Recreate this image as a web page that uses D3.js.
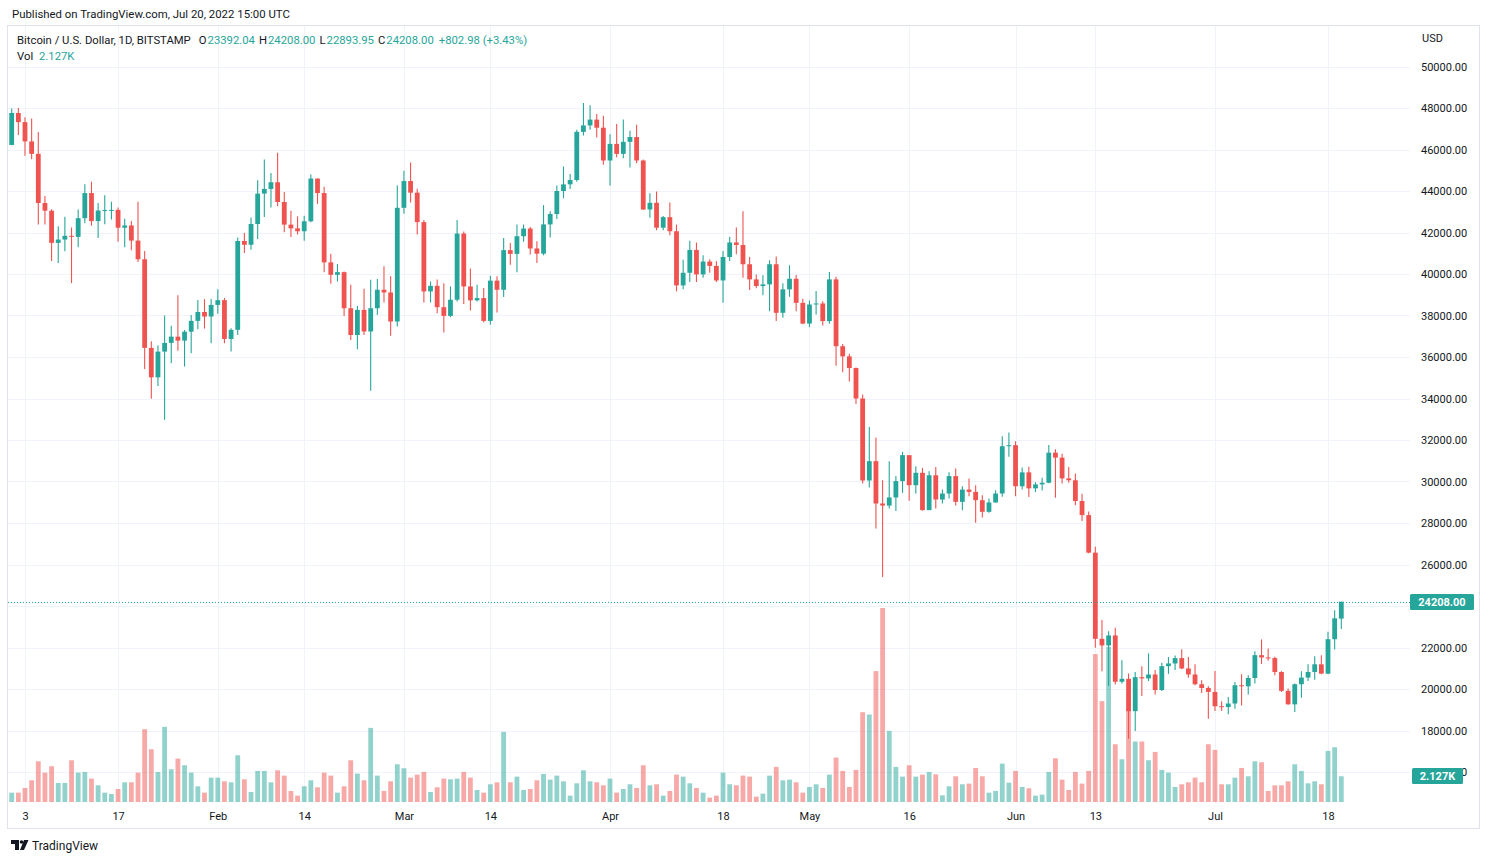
<!DOCTYPE html>
<html><head><meta charset="utf-8">
<script src="https://cdn.jsdelivr.net/npm/d3@7"></script>
<style>
body{margin:0;background:#fff;}
svg{display:block;font-family:Roboto,"Liberation Sans",sans-serif;}
</style>
</head><body>
<svg id="chart" width="1488" height="862"></svg>
<script>
// ---- DATA (Bitstamp BTC/USD daily, 2022-01-01 .. 2022-07-20) ----
const startDay = "2022-01-01";
const opens = [
46220,47760,47320,46390,45790,43420,43050,41500,41660,41840,41790,42690,43900,42550,43060,43080,43090,42230,42340,41610,40710,36440,35020,36260,36680,36980,36790,37220,37740,38170,37950,
38510,38740,36870,37310,41590,41410,42410,43875,44100,44420,43470,42380,42200,42060,42540,44600,43900,40560,39960,40090,38350,37060,38270,37230,38350,39240,39110,37710,
43190,44480,43920,42500,39160,39430,38400,37980,38760,41950,39400,38730,38840,37740,39680,39240,41150,40970,41820,42190,41230,40980,42390,42890,44000,44320,44530,46850,47160,47440,47050,
45470,46270,45790,46370,46600,45470,43110,43430,42230,42740,42060,39450,40060,41160,39980,40600,40390,39690,40820,41520,41400,40470,39740,39420,39500,40470,38130,39260,39770,38610,
37610,38530,38580,37730,39740,36520,36030,35470,34000,30050,30980,28940,28840,29230,30020,31270,29820,30420,28620,30300,29130,29420,30260,29020,29610,29500,29100,28540,28990,29420,31700,
31750,29770,30440,29670,29860,29940,31390,31150,30150,30060,29060,28380,26570,22420,22100,22580,20350,20490,18930,20570,20510,20700,19950,21100,21230,21490,20990,20700,20230,20050,
19860,19170,19130,19300,20180,20130,20530,21630,21520,21490,20820,19910,19260,20230,20550,20820,21190,20740,22400,23392.04];
const highs = [
47970,48000,47560,47500,46840,43760,43120,42300,42760,42240,43110,44320,44450,43420,43800,43480,43210,42660,42560,43480,41110,36760,36550,38000,37510,38980,37300,38030,38750,38790,38790,
39270,38840,37390,41760,41975,42720,44520,45520,44870,45840,43950,43050,42780,42810,44790,44600,44200,40980,40480,40120,39480,38470,39290,39720,39760,40370,39890,44270,
44970,45370,44110,42600,39640,39730,39560,39400,42600,42050,40270,39480,39320,39920,39890,41740,41500,42390,42390,42270,41580,43320,43030,44260,45180,44820,46950,48240,48130,47710,47630,
46740,47230,47440,46900,47190,45520,43890,43970,42790,43450,42390,40690,41600,41520,40900,40710,40630,41110,41790,42240,43020,40820,39980,39940,40660,40840,39550,40420,39950,38810,
38720,39180,38690,40100,39870,36630,36160,35500,34190,32630,32120,30060,30980,30260,31430,31270,30740,30660,30500,30700,29610,30450,30630,29770,30140,29820,29340,29180,29580,32180,32360,
31940,30670,30710,29970,30180,31760,31550,31340,30700,30380,29410,28550,26860,23320,22780,22950,21380,20750,20820,21100,21720,20910,21270,21540,21620,21910,21540,21190,20420,20130,
20870,19410,19620,20340,20710,20660,21820,22390,21950,21550,20860,20020,20260,20860,21190,21580,21630,22760,23800,24208.00];
const lows = [
46210,46700,45700,45530,42390,42390,40630,40530,41100,39560,41290,42440,42330,41730,42400,42630,41550,41290,41150,40580,35420,33990,34600,32970,35700,36300,35540,36180,37340,37370,36660,
38080,36660,36260,37060,41010,41170,41690,42750,43200,43260,42010,41780,41900,41600,42490,43380,40080,39530,39640,37980,36820,36370,37060,34370,38030,38630,37020,37470,
42900,43440,41900,38630,38630,38110,37180,37920,38680,38560,38240,38680,37660,37550,38140,38890,40450,40080,41550,40940,40530,40900,41760,42645,43650,44100,44450,46680,46950,46580,45260,
44260,45630,45580,45130,45340,43080,42710,42110,42110,41870,39160,39260,39610,39610,39820,40060,39610,38610,40630,40950,39820,39230,39310,38980,38210,37730,37890,38900,38210,37580,
37440,38050,37520,37600,35580,35270,34820,33730,29900,29710,27730,25400,28700,28580,29450,29070,29420,28600,28650,28700,28940,29180,28840,28620,29290,28010,28260,28490,28970,29260,31190,
29290,29610,29250,29490,29570,29910,29220,29900,29940,28850,28100,26540,21990,20860,20140,20220,20270,17600,17970,19660,20380,19740,19900,20730,20910,20950,20540,20180,19810,18570,
18940,18940,18780,19050,19210,19730,20260,21200,21360,20660,19860,19250,18890,19580,20390,20450,20710,20710,21900,22893.95];
const closes = [
47760,47320,46390,45790,43420,43050,41500,41660,41840,41790,42690,43900,42550,43060,43080,43090,42230,42340,41610,40710,36440,35020,36260,36680,36980,36790,37220,37740,38170,37950,38510,
38740,36870,37310,41590,41410,42410,43875,44100,44420,43470,42380,42200,42060,42540,44600,43900,40560,39960,40090,38350,37060,38270,37230,38350,39240,39110,37710,43190,
44480,43920,42500,39160,39430,38400,37980,38760,41950,39400,38730,38840,37740,39680,39240,41150,40970,41820,42190,41230,40980,42390,42890,44000,44320,44530,46850,47160,47440,47050,45470,
46270,45790,46370,46600,45470,43110,43430,42230,42740,42060,39450,40060,41160,39980,40600,40390,39690,40820,41520,41400,40470,39740,39420,39500,40470,38130,39260,39770,38610,37610,
38530,38580,37730,39740,36520,36030,35470,34000,30050,30980,28940,28840,29230,30020,31270,29820,30420,28620,30300,29130,29420,30260,29020,29610,29500,29100,28540,28990,29420,31700,31750,
29770,30440,29670,29860,29940,31390,31150,30150,30060,29060,28380,26570,22420,22100,22580,20350,20490,18930,20570,20510,20700,19950,21100,21230,21490,20990,20700,20230,20050,19860,
19170,19130,19300,20180,20130,20530,21630,21520,21490,20820,19910,19260,20230,20550,20820,21190,20740,22400,23405.02,24208.00];
const volumes = [
773,773,1159,1794,3367,2429,2953,1573,1573,3450,2429,2484,1932,1380,773,662,1076,1628,1628,2429,6017,4361,2484,6210,2705,3588,3036,2429,1297,773,2015,
2015,1711,1628,3864,1877,828,2567,2567,1628,2622,2180,911,524,1297,1794,1214,2429,2180,773,1297,3450,2346,1794,6127,2180,911,1711,3119,
2788,2015,2263,2484,828,1214,1932,1877,1932,2484,2015,994,773,1463,1628,5796,1628,2098,994,1076,1794,2318,1849,2180,1711,524,1546,2622,1711,1628,1380,
1932,773,1076,1463,1159,3036,1380,1463,524,911,2263,2098,1546,1159,773,359,524,2429,1463,1380,2180,2098,442,690,2180,2898,1794,1849,1628,773,
1242,1463,1159,2263,3671,2567,1242,2650,7424,7231,10819,16036,5879,2898,2098,3036,2098,2263,2484,2291,552,1297,2125,1463,1518,2815,2125,773,911,3174,1601,
2567,1242,1132,524,607,2484,3616,1849,994,2484,1518,2567,12227,8335,12830,4775,3533,7728,4996,4996,3450,4140,2650,2429,1242,1463,1628,2015,1628,4775,
4306,1463,1463,2015,2815,2125,3367,3284,911,1380,1380,1711,3119,2567,1546,1711,1463,4223,4526,2127];
const timeTickDates = ["2022-01-03","2022-01-17","2022-02-01","2022-02-14","2022-03-01","2022-03-14","2022-04-01","2022-04-18","2022-05-01","2022-05-16","2022-06-01","2022-06-13","2022-07-01","2022-07-18"];
const timeTickLabels = ["3","17","Feb","14","Mar","14","Apr","18","May","16","Jun","13","Jul","18"];
const priceTicks = [16000,18000,20000,22000,24000,26000,28000,30000,32000,34000,36000,38000,40000,42000,44000,46000,48000,50000];

// ---- CHART ----
const UP = "#26a69a", DOWN = "#ef5350", TXT = "#131722", GRID = "#f0f3fa";
const UPV = "rgba(38,166,154,0.5)", DOWNV = "rgba(239,83,80,0.5)";
const parse = d3.utcParse("%Y-%m-%d");
const t0 = parse(startDay);
const bars = closes.map((c,i)=>({date:d3.utcDay.offset(t0,i),o:opens[i],h:highs[i],l:lows[i],c:c,v:volumes[i]}));
const last = bars[bars.length-1], prev = bars[bars.length-2];

const svg = d3.select("#chart");
const plot = {left:8, right:1410, top:26, bottom:803};

const x = d3.scaleUtc().domain([t0, last.date]).range([11.7, 1341.3]);
const y = d3.scaleLinear().domain([20000, 48000]).range([689, 108]);
const yv = d3.scaleLinear().domain([0, 16036]).range([802, 608]);

svg.append("defs").append("clipPath").attr("id","clip")
  .append("rect").attr("x",plot.left).attr("y",plot.top).attr("width",plot.right-plot.left).attr("height",plot.bottom-plot.top);

// frame
svg.append("rect").attr("x",7.5).attr("y",25.5).attr("width",1472).attr("height",803)
  .attr("fill","none").attr("stroke","#e0e3eb").attr("stroke-width",1);

// grid
const g = svg.append("g").attr("clip-path","url(#clip)");
g.selectAll(".hg").data(priceTicks).join("line")
  .attr("x1",plot.left).attr("x2",plot.right)
  .attr("y1",d=>Math.round(y(d))+0.5).attr("y2",d=>Math.round(y(d))+0.5)
  .attr("stroke",GRID).attr("stroke-width",1);
const tickDates = timeTickDates.map(parse);
g.selectAll(".vg").data(tickDates).join("line")
  .attr("x1",d=>Math.round(x(d))+0.5).attr("x2",d=>Math.round(x(d))+0.5)
  .attr("y1",plot.top).attr("y2",plot.bottom)
  .attr("stroke",GRID).attr("stroke-width",1);

// volume
const bw = 4.8;
g.selectAll(".vol").data(bars).join("rect")
  .attr("x",d=>x(d.date)-bw/2).attr("width",bw)
  .attr("y",d=>yv(d.v)).attr("height",d=>yv(0)-yv(d.v))
  .attr("fill",d=>d.c>=d.o?UPV:DOWNV);

// candles
g.selectAll(".wick").data(bars).join("line")
  .attr("x1",d=>x(d.date)).attr("x2",d=>x(d.date))
  .attr("y1",d=>y(d.h)).attr("y2",d=>y(d.l))
  .attr("stroke",d=>d.c>=d.o?UP:DOWN).attr("stroke-width",1.1);
g.selectAll(".body").data(bars).join("rect")
  .attr("x",d=>x(d.date)-bw/2).attr("width",bw)
  .attr("y",d=>y(Math.max(d.o,d.c)))
  .attr("height",d=>Math.max(1,Math.abs(y(d.o)-y(d.c))))
  .attr("fill",d=>d.c>=d.o?UP:DOWN);

// last price dotted line
g.append("line").attr("x1",plot.left).attr("x2",plot.right)
  .attr("y1",Math.round(y(last.c))+0.5).attr("y2",Math.round(y(last.c))+0.5)
  .attr("stroke",UP).attr("stroke-width",1).attr("stroke-dasharray","1,2");

// price axis (the tick hidden under the last-price label is not drawn)
const lastY = y(last.c);
const shownTicks = priceTicks.filter(p => Math.abs(y(p) - lastY) > 9);
const ya = svg.append("g").attr("transform",`translate(${plot.right},0)`)
  .call(d3.axisRight(y).tickValues(shownTicks).tickSize(0).tickPadding(11).tickFormat(d=>d.toFixed(2)));
ya.select(".domain").remove();
ya.selectAll("text").attr("fill",TXT).style("font-size","11px").style("font-family","Roboto, sans-serif");

svg.append("text").attr("x",1422).attr("y",42).attr("fill",TXT).style("font-size","11px").text("USD");

// time axis
const xa = svg.append("g").attr("transform",`translate(0,${plot.bottom+3})`)
  .call(d3.axisBottom(x).tickValues(tickDates).tickSize(0).tickPadding(6)
    .tickFormat((d,i)=>timeTickLabels[i]));
xa.select(".domain").remove();
xa.selectAll("text").attr("fill",TXT).style("font-size","11px").style("font-family","Roboto, sans-serif");

// last price label
const fmt2 = d3.format(".2f");
svg.append("rect").attr("x",1410).attr("y",Math.round(lastY)-8).attr("width",64).attr("height",16).attr("rx",1.5).attr("fill",UP);
svg.append("text").attr("x",1442).attr("y",Math.round(lastY)+4).attr("text-anchor","middle")
  .attr("fill","#fff").style("font-size","11px").style("font-weight","bold").text(fmt2(last.c));
// volume label
svg.append("rect").attr("x",1412).attr("y",Math.round(yv(last.v))-8).attr("width",51).attr("height",16).attr("rx",1.5).attr("fill",UP);
svg.append("text").attr("x",1437.5).attr("y",Math.round(yv(last.v))+4).attr("text-anchor","middle")
  .attr("fill","#fff").style("font-size","11px").style("font-weight","bold").text((last.v/1000).toFixed(3)+"K");

// header
svg.append("text").attr("x",12).attr("y",18).attr("fill",TXT).style("font-size","11.4px")
  .text("Published on TradingView.com, Jul 20, 2022 15:00 UTC");
const chg = last.c - prev.c, pct = chg/prev.c*100;
const hdr = [
  [0, TXT, "Bitcoin / U.S. Dollar, 1D, BITSTAMP"],
  [8, TXT, "O"], [1, UP, fmt2(last.o)],
  [4, TXT, "H"], [1, UP, fmt2(last.h)],
  [4, TXT, "L"], [1, UP, fmt2(last.l)],
  [4, TXT, "C"], [1, UP, fmt2(last.c)],
  [5, UP, (chg>=0?"+":"")+fmt2(chg)+" ("+(pct>=0?"+":"")+pct.toFixed(2)+"%)"]
];
svg.append("text").attr("x",17).attr("y",44).style("font-size","11.3px")
  .selectAll("tspan").data(hdr).join("tspan")
  .attr("dx",d=>d[0]).attr("fill",d=>d[1]).text(d=>d[2]);
svg.append("text").attr("x",17).attr("y",60).attr("fill",TXT).style("font-size","11.3px").text("Vol");
svg.append("text").attr("x",39).attr("y",60).attr("fill",UP).style("font-size","11.3px").text((last.v/1000).toFixed(3)+"K");

// footer logo
const logo = svg.append("g").attr("fill",TXT);
logo.append("path").attr("d","M11,840 h8 v10 h-4 v-6 h-4 z");
logo.append("circle").attr("cx",21.5).attr("cy",842).attr("r",1.8);
logo.append("path").attr("d","M24,840 h4.5 l-4.5,10 h-4 z");
svg.append("text").attr("x",32).attr("y",849.5).attr("fill",TXT).style("font-size","12px").text("TradingView");
</script>
</body></html>
